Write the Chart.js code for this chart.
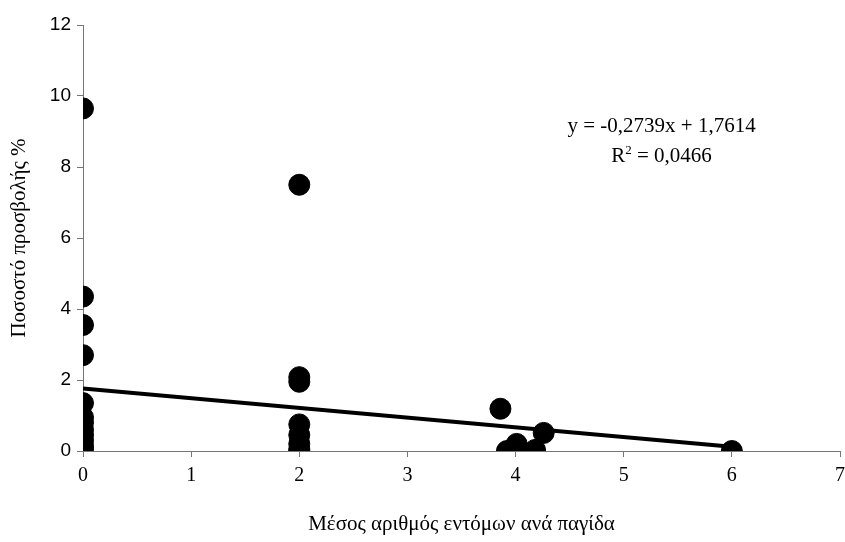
<!DOCTYPE html>
<html>
<head>
<meta charset="utf-8">
<script src="https://cdn.jsdelivr.net/npm/chart.js@4/dist/chart.umd.min.js"></script>
<style>
  html, body { margin: 0; padding: 0; background: #fff; }
  #wrap { width: 845px; height: 542px; position: relative; }
</style>
</head>
<body>
<div id="wrap"><canvas id="chart" width="845" height="542"></canvas></div>
<script>
// ========== 数据 ==========
const xValues = [0, 0, 0, 0, 0, 0, 0, 0, 0, 0, 0, 0,
                 2, 2, 2, 2, 2, 2, 2, 2,
                 3.86, 3.92, 4.01, 4.18, 4.26, 6];
const yValues = [9.65, 4.35, 3.55, 2.7, 1.35, 0.95, 0.8, 0.6, 0.45, 0.3, 0.15, 0.05,
                 7.5, 2.08, 1.95, 0.75, 0.45, 0.2, 0.05, 0.0,
                 1.19, 0.0, 0.2, 0.03, 0.51, 0.0];
const trendSlope = -0.2739;
const trendIntercept = 1.7614;
const trendRange = [0, 6];
const xTicks = [0, 1, 2, 3, 4, 5, 6, 7];
const yTicks = [0, 2, 4, 6, 8, 10, 12];
const equationLines = ['y = -0,2739x + 1,7614', 'R', '2', ' = 0,0466'];

const points = xValues.map((x, i) => ({ x, y: yValues[i] }));
const trendPoints = trendRange.map(x => ({ x, y: trendSlope * x + trendIntercept }));

const SERIF = '"Liberation Serif", "Times New Roman", serif';
const SANS = '"Liberation Sans", Arial, sans-serif';

// ========== 方程文字 ==========
const equationPlugin = {
    id: 'equation',
    afterDraw(chart) {
        const { ctx, scales } = chart;
        const cx = scales.x.getPixelForValue(5.35);
        const y1 = scales.y.getPixelForValue(9.0);
        ctx.save();
        ctx.fillStyle = '#000';
        ctx.textBaseline = 'alphabetic';
        ctx.font = '21px ' + SERIF;
        ctx.textAlign = 'center';
        ctx.fillText(equationLines[0], cx, y1);
        // R² 行
        const y2 = y1 + 30;
        const mainW = ctx.measureText(equationLines[1]).width + ctx.measureText(equationLines[3]).width;
        ctx.font = '13px ' + SERIF;
        const supW = ctx.measureText(equationLines[2]).width;
        let left = cx - (mainW + supW) / 2;
        ctx.textAlign = 'left';
        ctx.font = '21px ' + SERIF;
        ctx.fillText(equationLines[1], left, y2);
        left += ctx.measureText(equationLines[1]).width;
        ctx.font = '13px ' + SERIF;
        ctx.fillText(equationLines[2], left, y2 - 8);
        left += supW;
        ctx.font = '21px ' + SERIF;
        ctx.fillText(equationLines[3], left, y2);
        ctx.restore();
    }
};

const ctx = document.getElementById('chart').getContext('2d');
new Chart(ctx, {
    type: 'scatter',
    data: {
        datasets: [
            {
                label: 'Trend',
                type: 'line',
                data: trendPoints,
                borderColor: '#000',
                borderWidth: 4,
                pointRadius: 0,
                fill: false,
                order: 2
            },
            {
                label: 'Data',
                data: points,
                backgroundColor: '#000',
                borderColor: '#000',
                pointRadius: 10.5,
                pointHoverRadius: 10.5,
                order: 1
            }
        ]
    },
    plugins: [equationPlugin],
    options: {
        responsive: false,
        animation: false,
        layout: { autoPadding: false, padding: { top: 25, right: 5, left: 0, bottom: 0 } },
        plugins: {
            legend: { display: false },
            tooltip: { enabled: false }
        },
        scales: {
            x: {
                type: 'linear',
                min: 0,
                max: 7,
                afterBuildTicks: axis => { axis.ticks = xTicks.map(v => ({ value: v })); },
                afterFit: axis => { axis.height = 91; axis.paddingRight = 0; axis.paddingLeft = 0; },
                grid: { drawOnChartArea: false, drawTicks: true, tickLength: 6, color: '#777' },
                border: { color: '#777', width: 1 },
                ticks: {
                    color: '#000',
                    padding: 7,
                    font: { family: SERIF, size: 20 }
                },
                title: {
                    display: true,
                    text: 'Μέσος αριθμός εντόμων ανά παγίδα',
                    color: '#000',
                    padding: { top: 0, bottom: 5 },
                    font: { family: SERIF, size: 21 }
                }
            },
            y: {
                min: 0,
                max: 12,
                afterBuildTicks: axis => { axis.ticks = yTicks.map(v => ({ value: v })); },
                afterFit: axis => { axis.width = 83; },
                grid: { drawOnChartArea: false, drawTicks: true, tickLength: 6, color: '#777' },
                border: { color: '#777', width: 1 },
                ticks: {
                    color: '#000',
                    padding: 6,
                    font: { family: SANS, size: 19 }
                },
                title: {
                    display: true,
                    text: 'Ποσοστό προσβολής %',
                    color: '#000',
                    padding: { top: 7, bottom: 0 },
                    font: { family: SERIF, size: 21 }
                }
            }
        }
    }
});
</script>
</body>
</html>
